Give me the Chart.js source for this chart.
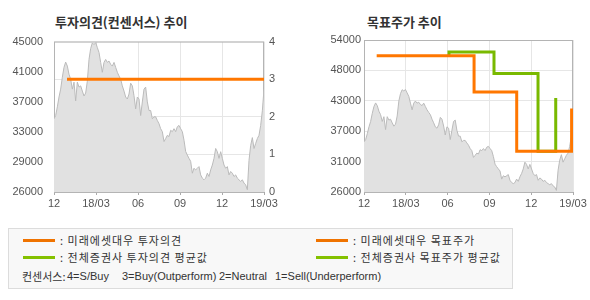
<!DOCTYPE html>
<html>
<head>
<meta charset="utf-8">
<script src="https://cdn.jsdelivr.net/npm/chart.js@4.4.1/dist/chart.umd.min.js"></script>
<style>
    body { margin: 0; background: #fff; width: 590px; height: 300px; position: relative; overflow: hidden; }
    .title { position: absolute; top: 12px; font: bold 13px "Noto Sans CJK KR", sans-serif; color: #333; }
    .box { position: absolute; left: 8px; top: 228px; width: 505px; height: 61px; box-sizing: border-box;
           background: #f8f8f8; border: 1px solid #dcdcdc; }
    .swatch { position: absolute; height: 3px; width: 32px; }
    .txt { position: absolute; font: 11px "Noto Sans CJK KR", sans-serif; color: #333; white-space: pre;
           line-height: 13px; letter-spacing: 1px; }
    .note { position: absolute; font: 11px "Liberation Sans", "Noto Sans CJK KR", sans-serif; color: #333; white-space: pre; line-height: 13px; }
    canvas { position: absolute; }
</style>
</head>
<body>
<div class="title" style="left:55px">투자의견(컨센서스) 추이</div>
<div class="title" style="left:367px">목표주가 추이</div>

<div id="wrap1" style="position:absolute;left:0;top:30px;width:295px;height:190px"><canvas id="opinionChart"></canvas></div>
<div id="wrap2" style="position:absolute;left:295px;top:30px;width:295px;height:190px"><canvas id="targetChart"></canvas></div>

<div class="box"></div>
<div class="swatch" style="left:23px;top:239px;background:#ef7300"></div>
<div class="txt" style="left:60px;top:234px">: 미래에셋대우 투자의견</div>
<div class="swatch" style="left:23px;top:256px;background:#84c100"></div>
<div class="txt" style="left:60px;top:251px">: 전체증권사 투자의견 평균값</div>
<div class="swatch" style="left:316px;top:239px;background:#ef7300"></div>
<div class="txt" style="left:353px;top:234px">: 미래에셋대우 목표주가</div>
<div class="swatch" style="left:316px;top:256px;background:#84c100"></div>
<div class="txt" style="left:353px;top:251px">: 전체증권사 목표주가 평균값</div>
<div class="txt" style="left:22px;top:270px;letter-spacing:0">컨센서스:</div>
<div class="note" style="left:67px;top:270px">4=S/Buy</div>
<div class="note" style="left:122px;top:270px">3=Buy(Outperform)</div>
<div class="note" style="left:219px;top:270px">2=Neutral</div>
<div class="note" style="left:275px;top:270px">1=Sell(Underperform)</div>

<script>
// x axis runs in months from 2017/12 (0) to 2019/03 (15)
const monthLabels = ['12', '18/03', '06', '09', '12', '19/03'];

// share price, evenly spaced trading samples over the period
const prices = [
    35250, 35660, 36750, 38000, 39000, 40500, 41750, 42410, 41910, 40875,
    40250, 39000, 39875, 37500, 39875, 39250, 39410, 38750, 38125, 38500,
    40000, 42750, 44125, 44840, 44625, 44875, 44250, 43625, 42375, 41125,
    42375, 42750, 42375, 42540, 42125, 41910, 42375, 41750, 41125, 40660,
    40250, 39410, 38750, 38000, 37750, 38375, 39750, 39410, 38160, 36500,
    38000, 37750, 35660, 37375, 39000, 39250, 37375, 36290, 36290, 35250,
    35500, 35500, 35040, 34625, 34000, 33625, 32375, 32750, 33160, 33000,
    33790, 33625, 34000, 33625, 34250, 34410, 34000, 33625, 32540, 31125,
    30660, 30250, 29875, 28375, 29000, 28790, 29000, 29210, 28160, 27750,
    27540, 27750, 28375, 27960, 28790, 29410, 30250, 31500, 31090, 30250,
    31090, 30250, 29410, 29000, 29210, 28160, 28590, 28375, 27960, 28160,
    27750, 27540, 27340, 27540, 27125, 26910, 26290, 30000, 31875, 32875,
    31500, 32125, 32750, 33160, 34410, 36250, 39000
];

// investment opinion (right axis of left chart)
const opinionMonths = [0.93, 15];
const opinionValues = [3, 3];
const opinionTicks = ['0', '1', '2', '3', '4'];

// price axis labels
const priceTicksLeft = ['26000', '29000', '33000', '37000', '41000', '45000'];
const priceTicksRight = ['26000', '31000', '37000', '43000', '48000', '54000'];

// target price, house vs consensus average
const targetMonths = [0.91, 7.9, 10.96, 14.9];
const targetValues = [51100, 44400, 33500, 41400];
const avgTargetMonths = [6.1, 6.1, 9.33, 12.49, 13.76];
const avgTargetValues = [51100, 51800, 47850, 33500, 43300];

const ORANGE = '#ff7700';
const GREEN = '#79b900';
const tickFont = { family: '"Liberation Sans", Arial, sans-serif', size: 11 };

const toPoints = (xs, ys) => xs.map((x, i) => ({ x: x, y: ys[i] }));
const pricePoints = prices.map((p, i) => ({ x: i * 15 / (prices.length - 1), y: p }));

// gray frame round the plot area
const framePlugin = {
    id: 'frame',
    beforeDatasetsDraw(chart) {
        const a = chart.chartArea;
        const ctx = chart.ctx;
        ctx.save();
        ctx.strokeStyle = '#b4b4b4';
        ctx.lineWidth = 1;
        ctx.strokeRect(a.left + 0.5, a.top + 0.5, a.right - a.left - 1, a.bottom - a.top);
        ctx.restore();
    }
};

function fixedWidth(w) {
    return function (scale) { scale.width = w; };
}

function priceDataset() {
    return {
        data: pricePoints,
        borderColor: '#bbbbbb',
        backgroundColor: '#e1e1e1',
        borderWidth: 1,
        fill: 'start',
        pointRadius: 0,
        tension: 0,
        order: 3
    };
}

function xScale() {
    return {
        type: 'linear',
        min: 0,
        max: 15,
        afterBuildTicks(scale) {
            scale.ticks = [0, 3, 6, 9, 12, 15].map(v => ({ value: v }));
        },
        afterFit(scale) { scale.height = 28; },
        ticks: {
            color: '#555',
            font: tickFont,
            padding: 2,
            maxRotation: 0,
            autoSkip: false,
            callback: (v, i) => monthLabels[i]
        },
        grid: { color: '#e6e6e6', tickColor: '#aaa', tickLength: 3 },
        border: { display: false }
    };
}

new Chart(document.getElementById('opinionChart'), {
    type: 'line',
    data: {
        datasets: [
            {
                data: toPoints(opinionMonths, opinionValues),
                yAxisID: 'y1',
                borderColor: ORANGE,
                borderWidth: 3,
                pointRadius: 0,
                fill: false,
                order: 0
            },
            priceDataset()
        ]
    },
    options: {
        responsive: true,
        maintainAspectRatio: false,
        animation: false,
        layout: { padding: { top: 10 } },
        plugins: { legend: { display: false }, tooltip: { enabled: false } },
        scales: {
            x: xScale(),
            y: {
                position: 'left',
                min: 26000,
                max: 45000,
                afterFit: fixedWidth(54),
                ticks: { stepSize: 3800, color: '#555', font: tickFont, padding: 3,
                         callback: (v, i) => priceTicksLeft[i] },
                grid: { display: false },
                border: { display: false }
            },
            y1: {
                position: 'right',
                min: 0,
                max: 4,
                afterFit: fixedWidth(31),
                ticks: { stepSize: 1, color: '#555', font: tickFont, padding: 5,
                         callback: (v, i) => opinionTicks[i] },
                grid: { color: '#e6e6e6', drawTicks: false },
                border: { display: false }
            }
        }
    },
    plugins: [framePlugin]
});

new Chart(document.getElementById('targetChart'), {
    type: 'line',
    data: {
        datasets: [
            {
                data: toPoints(targetMonths, targetValues),
                borderColor: ORANGE,
                borderWidth: 3,
                pointRadius: 0,
                stepped: 'before',
                fill: false,
                order: 0
            },
            {
                data: toPoints(avgTargetMonths, avgTargetValues),
                borderColor: GREEN,
                borderWidth: 3,
                pointRadius: 0,
                stepped: 'before',
                fill: false,
                order: 1
            },
            priceDataset()
        ]
    },
    options: {
        responsive: true,
        maintainAspectRatio: false,
        animation: false,
        layout: { padding: { top: 10 } },
        plugins: { legend: { display: false }, tooltip: { enabled: false } },
        scales: {
            x: xScale(),
            y: {
                position: 'left',
                min: 26000,
                max: 54000,
                afterFit: fixedWidth(69),
                ticks: { stepSize: 5600, color: '#555', font: tickFont, padding: 3,
                         callback: (v, i) => priceTicksRight[i] },
                grid: { color: '#e6e6e6', drawTicks: false },
                border: { display: false }
            },
            y1: {
                position: 'right',
                min: 0,
                max: 1,
                afterFit: fixedWidth(17),
                ticks: { display: false },
                grid: { display: false },
                border: { display: false }
            }
        }
    },
    plugins: [framePlugin]
});
</script>
</body>
</html>
